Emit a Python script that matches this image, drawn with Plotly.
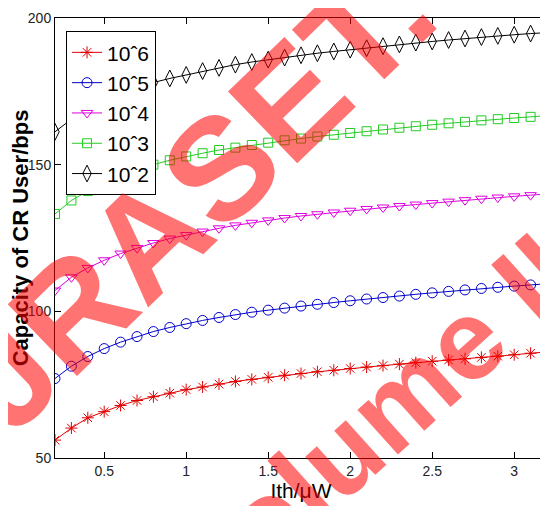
import plotly.graph_objects as go

x_vals = [0.2, 0.3, 0.4, 0.5, 0.6, 0.7, 0.8, 0.9, 1.0, 1.1, 1.2, 1.3, 1.4, 1.5, 1.6,
          1.7, 1.8, 1.9, 2.0, 2.1, 2.2, 2.3, 2.4, 2.5, 2.6, 2.7, 2.8, 2.9, 3.0, 3.1, 3.2]

series_names = ["10ˆ6", "10ˆ5", "10ˆ4", "10ˆ3", "10ˆ2"]

cap_1e6 = [56.1, 60.2, 63.7, 65.8, 67.9, 69.6, 70.9, 72.1, 73.3, 74.2, 75.2, 76.1, 76.8, 77.5, 78.2,
           78.8, 79.4, 79.9, 80.5, 81.0, 81.5, 82.0, 82.5, 83.0, 83.4, 83.8, 84.3, 84.7, 85.2, 85.7, 86.2]
cap_1e5 = [77.1, 81.3, 84.6, 87.3, 89.5, 91.4, 93.1, 94.5, 95.8, 96.9, 97.9, 98.9, 99.7, 100.4, 101.1,
           101.8, 102.4, 103.0, 103.6, 104.2, 104.7, 105.2, 105.8, 106.3, 106.8, 107.3, 107.8, 108.2, 108.6, 109.0, 109.4]
cap_1e4 = [107.1, 111.6, 114.8, 117.4, 119.7, 121.6, 123.3, 124.8, 126.0, 127.2, 128.3, 129.3, 130.2, 131.0, 131.8,
           132.5, 133.1, 133.7, 134.3, 134.9, 135.4, 135.9, 136.4, 136.9, 137.4, 137.9, 138.4, 138.8, 139.2, 139.6, 140.0]
cap_1e3 = [133.2, 137.8, 141.0, 143.6, 145.9, 148.0, 150.0, 151.5, 152.8, 153.9, 155.0, 155.8, 156.7, 157.5, 158.3,
           158.9, 159.6, 160.2, 160.8, 161.4, 162.0, 162.6, 163.1, 163.6, 164.1, 164.6, 165.1, 165.5, 165.9, 166.3, 166.7]
cap_1e2 = [161.2, 165.5, 168.8, 171.5, 173.8, 176.0, 178.0, 179.4, 180.6, 181.9, 183.0, 184.1, 185.0, 185.8, 186.5,
           187.3, 188.0, 188.6, 189.2, 189.7, 190.4, 191.0, 191.6, 192.0, 192.5, 193.0, 193.5, 193.9, 194.3, 194.7, 195.0]

x_ticks = [0.5, 1, 1.5, 2, 2.5, 3]
x_tick_labels = ["0.5", "1", "1.5", "2", "2.5", "3"]
y_ticks = [50, 100, 150, 200]
y_tick_labels = ["50", "100", "150", "200"]

all_series = [cap_1e6, cap_1e5, cap_1e4, cap_1e3, cap_1e2]
colors = ["#e00000", "#0000cc", "#dd00dd", "#22cc22", "#000000"]
symbols = ["asterisk-open", "circle-open", "triangle-down-open", "square-open", "diamond-tall-open"]
sizes = [10, 10, 10, 9, 12]

fig = go.Figure()
for name, ys, c, s, sz in zip(series_names, all_series, colors, symbols, sizes):
    fig.add_trace(go.Scatter(
        x=x_vals, y=ys, name=name, mode="lines+markers",
        line=dict(color=c, width=1),
        marker=dict(symbol=s, size=sz, color=c, line=dict(color=c, width=1)),
    ))

base_font = "Liberation Sans, Arial"

# page body has an 8px margin, so the figure is 8px smaller and margins shifted
fig.update_layout(
    width=540, height=498,
    margin=dict(l=47, r=1, t=10, b=48, autoexpand=False),
    paper_bgcolor="white", plot_bgcolor="white",
    showlegend=True,
    legend=dict(
        x=0.0224, y=0.970, xanchor="left", yanchor="top",
        bordercolor="black", borderwidth=1, bgcolor="white",
        font=dict(family=base_font, size=21, color="black"),
        itemwidth=30,
    ),
    xaxis=dict(
        range=[0.2, 3.2], tickvals=x_ticks, ticktext=x_tick_labels, automargin=False,
        showgrid=False, zeroline=False, showline=True, linecolor="black", linewidth=1,
        mirror="ticks", ticks="inside", ticklen=6, tickcolor="black",
        tickfont=dict(family=base_font, size=14, color="#222"),
        title=dict(text="Ith/μW", font=dict(family=base_font, size=21, color="black"), standoff=3),
    ),
    yaxis=dict(
        range=[50, 200], tickvals=y_ticks, ticktext=y_tick_labels, automargin=False,
        showgrid=False, zeroline=False, showline=True, linecolor="black", linewidth=1,
        mirror="ticks", ticks="inside", ticklen=6, tickcolor="black",
        tickfont=dict(family=base_font, size=14, color="#222"),
        title=dict(text="<b>Capacity of CR User/bps</b>",
                   font=dict(family=base_font, size=22, color="black"), standoff=5),
    ),
)

# watermark (semi-transparent text over the plot)
fig.add_annotation(text="<b>IJRASET:</b>", xref="paper", yref="paper",
                   x=(180 - 55) / 492, y=(458 - 207) / 440, xanchor="center", yanchor="middle",
                   textangle=-44, showarrow=False,
                   font=dict(family=base_font, size=145, color="rgba(255,0,0,0.55)"))
fig.add_annotation(text="<b>Volume II</b>", xref="paper", yref="paper",
                   x=(373 - 55) / 492, y=(458 - 423) / 440, xanchor="center", yanchor="middle",
                   textangle=-42, showarrow=False,
                   font=dict(family=base_font, size=114, color="rgba(255,0,0,0.55)"))

fig.write_html("out.html")
